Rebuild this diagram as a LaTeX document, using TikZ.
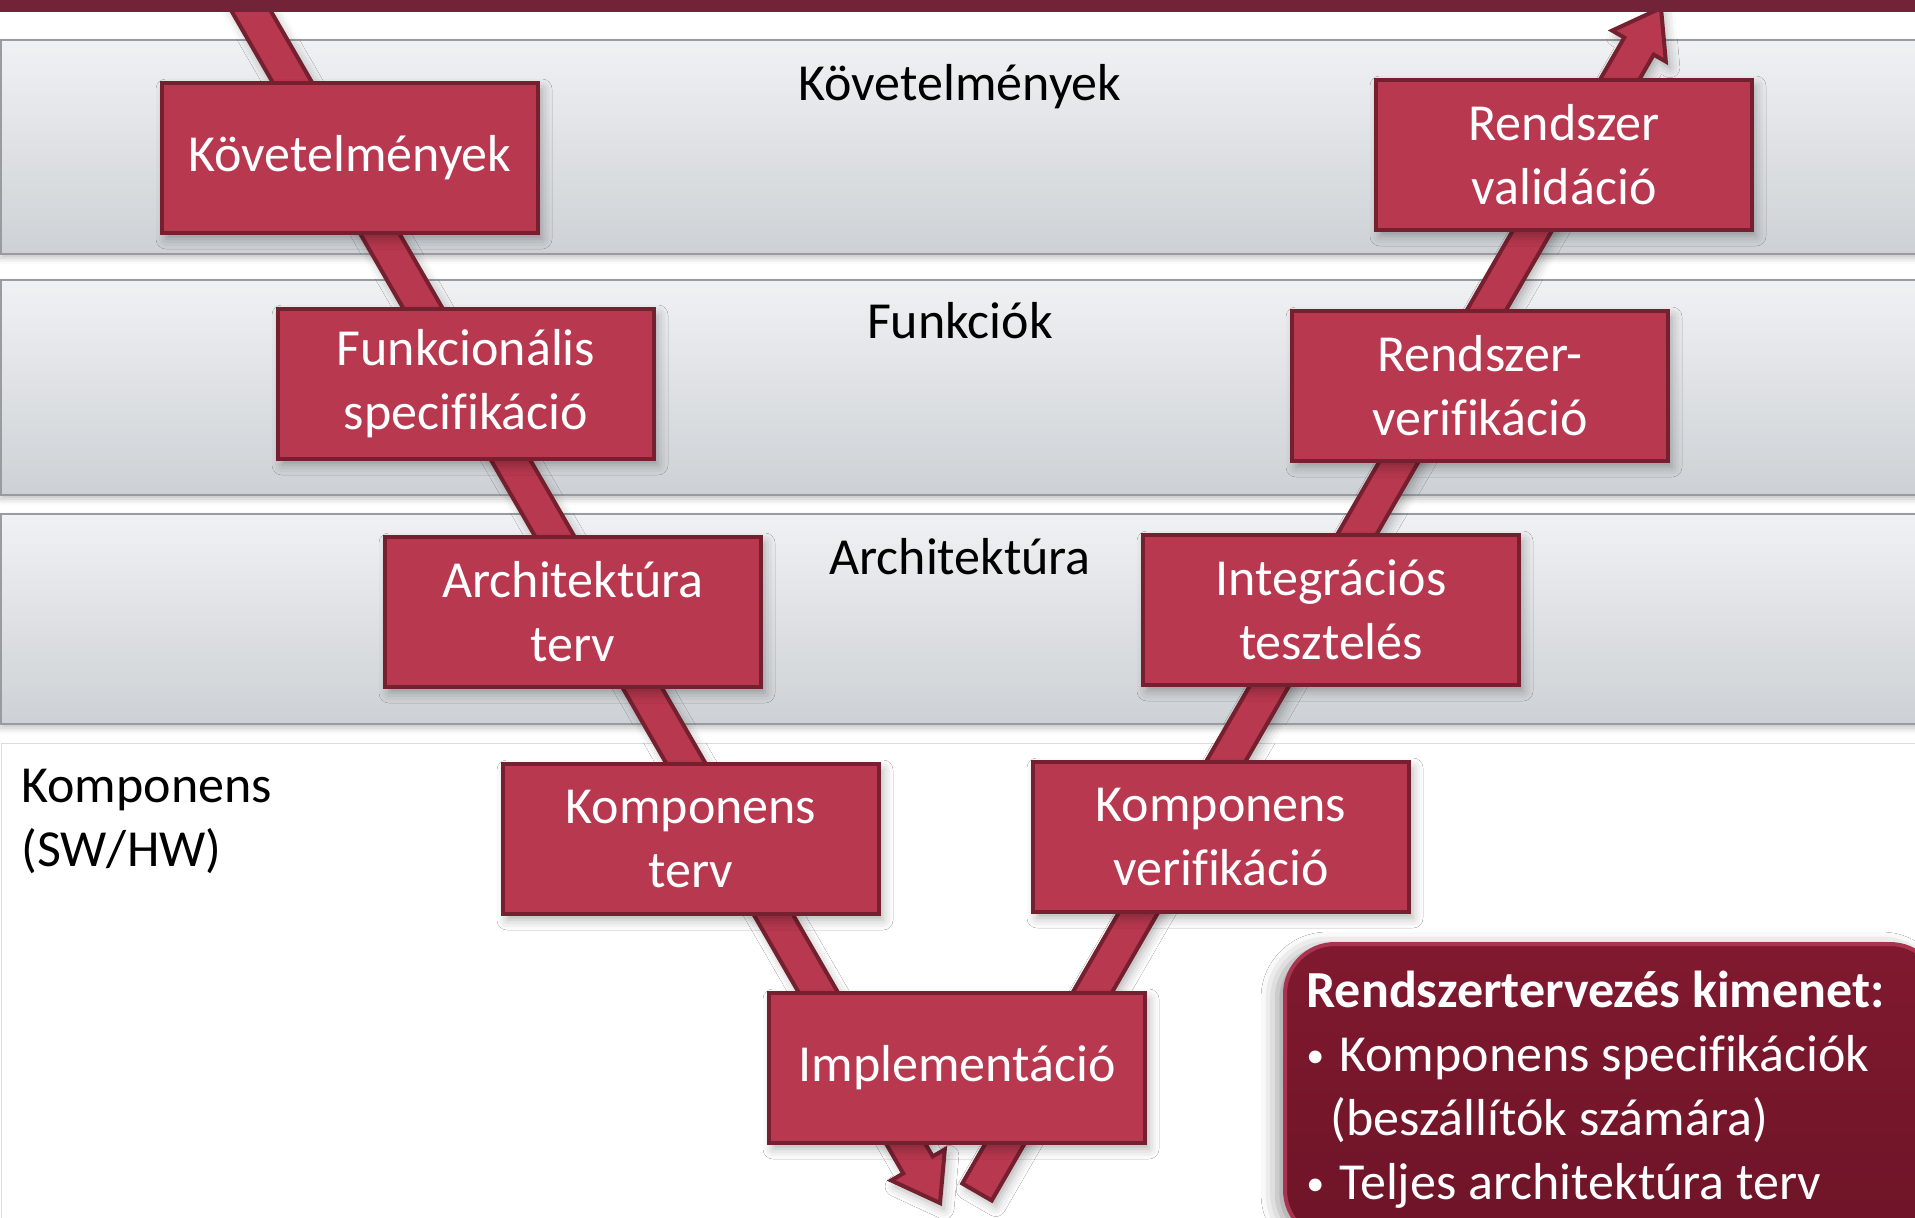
\documentclass[tikz,border=0pt]{standalone}
\usepackage{fontspec}
\setmainfont[Ligatures=NoCommon]{Carlito}
\usetikzlibrary{calc,shadows.blur}

\definecolor{boxred}{HTML}{B8384F}
\definecolor{boxline}{HTML}{75202F}
\definecolor{topbar}{HTML}{722337}
\definecolor{bandtop}{HTML}{F0F1F3}
\definecolor{bandbot}{HTML}{CDD1D5}
\definecolor{bandline}{HTML}{989CA1}
\definecolor{notetop}{HTML}{80192F}
\definecolor{notebot}{HTML}{6E1428}
\definecolor{noteline}{HTML}{A8344F}

% wide V-arrow from #1 to tip #2
\newcommand{\vshaft}[2]{%
  \coordinate (#1-b) at ($(#2)!22pt!(#1)$);
  \filldraw[shaft] ($(#1)!8.5pt!90:(#2)$) -- ($(#1-b)!8.5pt!90:(#2)$)
    -- ($(#1-b)!15.5pt!90:(#2)$) -- (#2) -- ($(#1-b)!15.5pt!-90:(#2)$)
    -- ($(#1-b)!8.5pt!-90:(#2)$) -- ($(#1)!8.5pt!-90:(#2)$) -- cycle;}
% small bullet
\newcommand{\bul}{\makebox[16.5pt][l]{\fontsize{18}{18}\selectfont\raisebox{2pt}{•}}}

\begin{document}
\begin{tikzpicture}
  [x=0.5pt,y=-0.5pt,font=\fontsize{26}{32}\selectfont]
  \tikzstyle{band} = [draw=bandline,line width=0.8pt,top color=bandtop,bottom color=bandbot,
    blur shadow={shadow xshift=0pt,shadow yshift=-2pt,shadow opacity=25,shadow blur radius=3pt}]
  \tikzstyle{shaft} = [fill=boxred,draw=boxline,line width=2pt,line join=miter,
    blur shadow={shadow xshift=2pt,shadow yshift=-3pt,shadow opacity=30,shadow blur radius=5pt}]
  \tikzstyle{phase} = [draw=boxline,fill=boxred,line width=2.2pt,text=white,align=center,
    minimum width=188pt,minimum height=75pt,
    blur shadow={shadow xshift=2pt,shadow yshift=-3pt,shadow opacity=30,shadow blur radius=5pt}]
  \tikzstyle{level} = [text=black]
  \useasboundingbox (0,0) rectangle (1915,1217);

  % levels
\foreach \ytop/\ybot in {40/254,280/495,514/724}
   \draw[band] (1,\ytop) rectangle (1930,\ybot);
  \draw[draw=bandline!35,fill=white] (1,743) rectangle (1930,1240);

  \node[level] (lreq) at (960,87) {Követelmények};
  \node[level] (lfun) at (960,321) {Funkciók};
  \node[level] (larc) at (960,557) {Architektúra};
  \node[level,align=left,anchor=west,inner sep=0] (lcomp) at (21,821) {Komponens\\(SW/HW)};

  % the V
  \coordinate (ls) at (239,-10);
  \coordinate (lt) at (940,1203);
  \coordinate (rs) at (977,1192);
  \coordinate (rt) at (1661,8);
\foreach \s/\t in {ls/lt,rs/rt}
   \vshaft{\s}{\t};

  \node[phase] (req) at (350,158) {Követelmények};
  \node[phase] (func) at (466,384) {Funkcionális\\specifikáció};
  \node[phase] (arch) at (573,612) {Architektúra\\terv};
  \node[phase] (comp) at (691,839) {Komponens\\terv};
  \node[phase] (impl) at (957,1068) {Implementáció};
  \node[phase] (cver) at (1221,837) {Komponens\\verifikáció};
  \node[phase] (integ) at (1331,610) {Integrációs\\tesztelés};
  \node[phase] (sver) at (1480,386) {Rendszer-\\verifikáció};
  \node[phase] (sval) at (1564,155) {Rendszer\\validáció};

  \fill[topbar] (0,0) rectangle (1915,12);

  % output box
  \draw[draw=noteline,line width=2pt,top color=notetop,bottom color=notebot,rounded corners=25pt,
    blur shadow={shadow xshift=-4pt,shadow yshift=-2pt,shadow opacity=40,shadow blur radius=8pt}]
    (1285,944) rectangle (1940,1240);
  \node[anchor=north west,align=left,text=white,inner sep=0] (out) at (1306,971)
    {\textbf{Rendszertervezés kimenet:}\\
     \bul Komponens specifikációk\\
     \hspace*{12pt}(beszállítók számára)\\
     \bul Teljes architektúra terv};

\end{tikzpicture}
\end{document}
